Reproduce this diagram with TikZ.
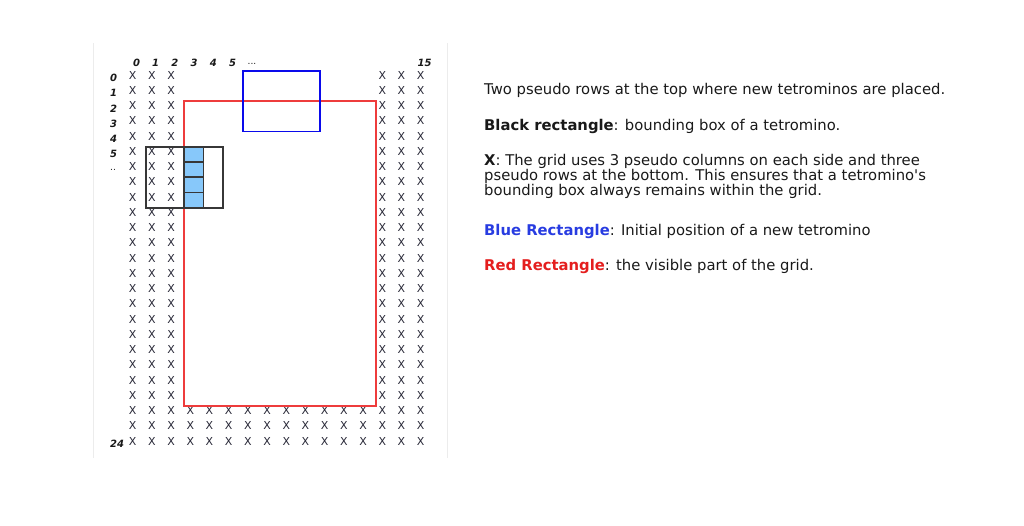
\documentclass[tikz,border=0pt]{standalone}
\usepackage{fontspec}
\setmainfont{DejaVu Sans}
\definecolor{xgray}{RGB}{40,40,55}
\definecolor{redline}{RGB}{238,60,60}
\definecolor{blueline}{RGB}{10,10,235}
\definecolor{cellfill}{RGB}{135,200,250}
\definecolor{boxgray}{RGB}{55,55,55}
\definecolor{bluetxt}{RGB}{40,60,225}
\definecolor{redtxt}{RGB}{228,30,30}
\definecolor{bodytxt}{RGB}{25,25,25}
\definecolor{panelgray}{RGB}{236,236,236}
\begin{document}
\begin{tikzpicture}[x=1pt,y=-1pt,
  xmark/.style={inner sep=0pt,text=xgray,font=\fontsize{11}{12}\selectfont},
  lbl/.style={inner sep=0pt,text=bodytxt,font=\fontsize{10}{11}\bfseries\itshape\selectfont},
  rlbl/.style={lbl,anchor=west},
  txt/.style={anchor=base west,inner sep=0pt,text=bodytxt,font=\fontsize{14.8}{15}\selectfont},
  redrect/.style={draw=redline,line width=1.6pt},
  bluerect/.style={draw=blueline,line width=1.8pt},
  blackrect/.style={draw=boxgray,line width=1.6pt},
  cellbox/.style={draw=boxgray,line width=1.6pt,fill=cellfill},
  panel/.style={draw=panelgray,line width=0.8pt}]
\useasboundingbox (0,0) rectangle (1024,525);
% panel borders
\draw[panel] (93.3,43) -- (93.3,458);
\draw[panel] (447.7,43) -- (447.7,458);
% X marks: side columns
\foreach \r in {0,...,24}{
  \foreach \c in {0,1,2,13,14,15}{
    \node[xmark] (x-\c-\r) at ({132.7+19.2*\c},{75+15.25*\r}) {X};
  }
}
% X marks: bottom rows
\foreach \r in {22,23,24}{
  \foreach \c in {3,...,12}{
    \node[xmark] (x-\c-\r) at ({132.7+19.2*\c},{75+15.25*\r}) {X};
  }
}
% column labels
\foreach \c/\t in {0/0,1/1,2/2,3/3,4/4,5/5}{
  \node[lbl] (cl-\c) at ({136.5+19.2*\c},62.5) {\t};
}
\node[lbl,font=\fontsize{9}{10}\selectfont] (cl-dots) at (252,64) {...};
\node[lbl] (cl-15) at (424.5,62.5) {15};
% row labels
\foreach \r in {0,...,5}{
  \node[rlbl] (rl-\r) at (110,{78+15.25*\r}) {\r};
}
\node[rlbl,font=\fontsize{9}{10}\selectfont] (rl-dots) at (110,170) {..};
\node[rlbl] (rl-24) at (110,{78+15.25*24}) {24};
% red rectangle: visible part
\draw[redrect] (184,101) rectangle (376,406);
% blue rectangle: initial position
\draw[bluerect] (243,71) rectangle (320,131.5);
% tetromino cells
\foreach \k in {0,...,3}{
  \draw[cellbox] (184,{146.75+15.25*\k}) rectangle (203.3,{146.75+15.25*(\k+1)});
}
% black rectangle: bounding box
\draw[blackrect] (146,146.75) rectangle (223,207.75);
% explanation text
\node[txt] (t1) at (484,94.5) {Two pseudo rows at the top where new tetrominos are placed.};
\node[txt] (t2) at (484,130) {\textbf{Black rectangle}: bounding box of a tetromino.};
\node[txt] (t3) at (484,165) {\textbf{X}: The grid uses 3 pseudo columns on each side and three};
\node[txt] (t4) at (484,180) {pseudo rows at the bottom. This ensures that a tetromino\textquotesingle s};
\node[txt] (t5) at (484,195) {bounding box always remains within the grid.};
\node[txt] (t6) at (484,235.5) {\textcolor{bluetxt}{\textbf{Blue Rectangle}}: Initial position of a new tetromino};
\node[txt] (t7) at (484,270.5) {\textcolor{redtxt}{\textbf{Red Rectangle}}: the visible part of the grid.};
\end{tikzpicture}
\end{document}
